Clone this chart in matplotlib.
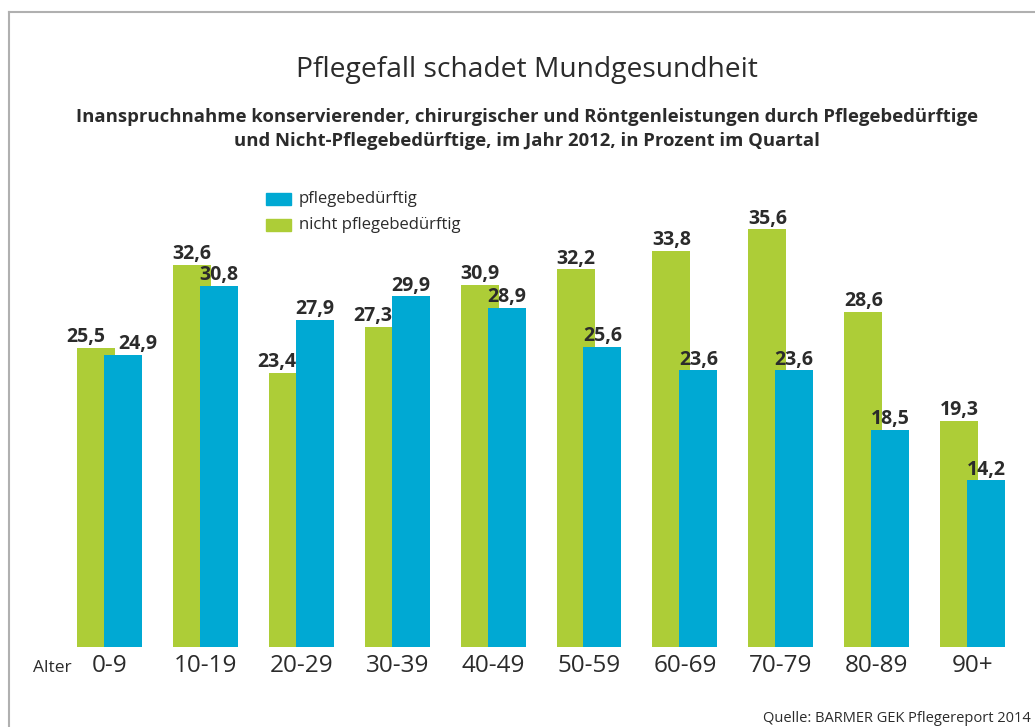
import matplotlib
matplotlib.use("Agg")
import matplotlib.pyplot as plt
from matplotlib.lines import Line2D
import numpy as np

plt.rcParams["font.family"] = ["Open Sans", "DejaVu Sans"]

# data
age_groups = ["0-9", "10-19", "20-29", "30-39", "40-49",
              "50-59", "60-69", "70-79", "80-89", "90+"]
pflegebeduerftig = [24.9, 30.8, 27.9, 29.9, 28.9, 25.6, 23.6, 23.6, 18.5, 14.2]
nicht_pflegebeduerftig = [25.5, 32.6, 23.4, 27.3, 30.9, 32.2, 33.8, 35.6, 28.6, 19.3]

GREEN = "#ADCD37"
BLUE = "#00A9D3"
TEXT = "#2b2b2b"

W, H = 1035, 727
fig = plt.figure(figsize=(W / 100, H / 100), dpi=100)

# axes placed in pixel terms: base line at y=647, 11.73 px per unit
ax_left, ax_right = 30, 1035
ax_bottom, ymax = 647, 40
px_per_unit = 11.73
ax_top = ax_bottom - ymax * px_per_unit
ax = fig.add_axes([ax_left / W, (H - ax_bottom) / H,
                   (ax_right - ax_left) / W, (ax_bottom - ax_top) / H])

spacing_px, center0 = 95.9, 109.5
ax.set_xlim((ax_left - center0) / spacing_px, (ax_right - center0) / spacing_px)
ax.set_ylim(0, ymax)

x = np.arange(len(age_groups))
bw = 0.396
off = 0.14
ax.bar(x - off, nicht_pflegebeduerftig, width=bw, color=GREEN, zorder=2)
ax.bar(x + off, pflegebeduerftig, width=bw, color=BLUE, zorder=3)

# value labels
pad = 0.05
lab_kw = dict(va="bottom", fontsize=14, fontweight="bold", color=TEXT)
for i, (g, b) in enumerate(zip(nicht_pflegebeduerftig, pflegebeduerftig)):
    gl = f"{g:.1f}".replace(".", ",")
    bl = f"{b:.1f}".replace(".", ",")
    if g - b < 1.0:
        # labels would collide: push green label left of the blue bar
        ax.text(x[i] + off - bw / 2 + 0.01, g + pad, gl, ha="right", **lab_kw)
        bx = x[i] + off + (0.16 if abs(g - b) < 1.0 else 0)
        ax.text(bx, b + pad, bl, ha="center", **lab_kw)
    else:
        ax.text(x[i] - off, g + pad, gl, ha="center", **lab_kw)
        ax.text(x[i] + off, b + pad, bl, ha="center", **lab_kw)

ax.set_xticks(x)
ax.set_xticklabels(age_groups, fontsize=17.5, color=TEXT)
ax.tick_params(axis="x", length=0, pad=5)
ax.set_yticks([])
for s in ax.spines.values():
    s.set_visible(False)

fig.text(52 / W, 1 - 668 / H, "Alter", ha="center", va="center",
         fontsize=12.5, color=TEXT)

# legend
for k, (col, lab) in enumerate([(BLUE, "pflegebedürftig"),
                                 (GREEN, "nicht pflegebedürftig")]):
    yc = 199 + k * 26
    fig.patches.append(plt.Rectangle((266 / W, 1 - (yc + 6) / H), 25 / W, 12 / H,
                                     transform=fig.transFigure, color=col))
    fig.text(299 / W, 1 - yc / H, lab, ha="left", va="center",
             fontsize=12, color=TEXT)

# titles
fig.text(527 / W, 1 - 70 / H, "Pflegefall schadet Mundgesundheit",
         ha="center", va="center", fontsize=20.3, color=TEXT)
fig.text(527 / W, 1 - 129 / H,
         "Inanspruchnahme konservierender, chirurgischer und Röntgenleistungen durch Pflegebedürftige\n"
         "und Nicht-Pflegebedürftige, im Jahr 2012, in Prozent im Quartal",
         ha="center", va="center", fontsize=13.3, fontweight="bold",
         color=TEXT, linespacing=1.5)

fig.text(1031 / W, 1 - 719 / H, "Quelle: BARMER GEK Pflegereport 2014",
         ha="right", va="center", fontsize=10.5, color=TEXT)

# frame lines
fig.add_artist(Line2D([9 / W, 9 / W], [0, 1 - 12 / H], transform=fig.transFigure,
                      color="#b0b0b0", lw=1.5))
fig.add_artist(Line2D([9 / W, 1], [1 - 12 / H, 1 - 12 / H], transform=fig.transFigure,
                      color="#b0b0b0", lw=1.5))

fig.savefig("out.png", dpi=100)
